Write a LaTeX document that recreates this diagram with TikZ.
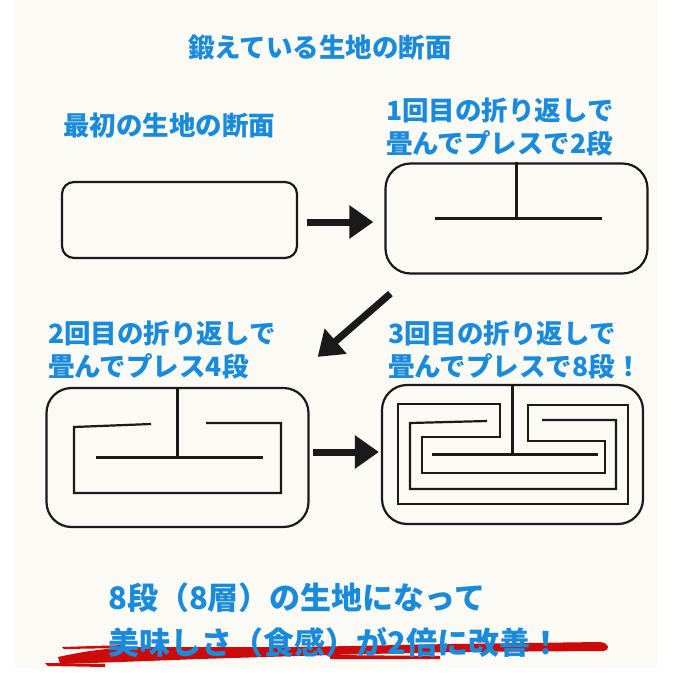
\documentclass[tikz,border=0pt]{standalone}
\usepackage{fontspec}
\newfontfamily\jpfont{Noto Sans CJK JP}
\usepackage{tikz}
\usetikzlibrary{arrows.meta,positioning,calc}
\usepackage{xcolor}
\definecolor{paper}{HTML}{FBFAF5}
\definecolor{caption}{HTML}{1A8ADA}
\definecolor{ink}{HTML}{1A1A1A}
\definecolor{brush}{HTML}{CC0A0A}

\begin{document}
\begin{tikzpicture}[
  x=1pt, y=-1pt,
  every node/.style={font=\jpfont\bfseries, text=caption, inner sep=0pt},
  head/.style={font=\jpfont\bfseries\fontsize{26.5}{33}\selectfont, align=left},
  big/.style={font=\jpfont\bfseries\fontsize{31}{45}\selectfont, align=left},
  dough/.style={draw=ink, line width=2.2, fill=paper},
  layer/.style={draw=ink, line width=2.2},
  push/.style={-{Triangle[length=24, width=32]}, line width=7, draw=ink}
]
  % canvas
  \useasboundingbox (0,0) rectangle (675,675);
  \fill[white] (0,0) rectangle (675,675);
  \fill[paper] (15,0) rectangle (658,668);

  % titles
  \node (title) at (320,47) {\fontsize{26.5}{33}\selectfont 鍛えている生地の断面};
  \node[head, anchor=west] (cap0) at (63,125) {最初の生地の断面};
  \node[head, anchor=west] (cap1) at (386,127) {1回目の折り返しで\\畳んでプレスで2段};
  \node[head, anchor=west] (cap2) at (48,350) {2回目の折り返しで\\畳んでプレス4段};
  \node[head, anchor=west] (cap3) at (388,350) {3回目の折り返しで\\畳んでプレスで8段！};

  % dough cross sections
  \node[dough, rounded corners=12, minimum width=235, minimum height=76] (fold0) at (179.5,220) {};
  \node[dough, rounded corners=25, minimum width=262, minimum height=110] (fold1) at (516.5,218.5) {};
  \node[dough, rounded corners=25, minimum width=262, minimum height=139] (fold2) at (177.5,457.5) {};
  \node[dough, rounded corners=25, minimum width=261, minimum height=139] (fold3) at (512.5,454.5) {};

  % 2 layers
  \draw[layer] (fold1.north) -- (fold1.center);
  \draw[layer] ($(fold1.center)+(-82,0)$) -- ++(167,0);

  % 4 layers
  \draw[layer] (fold2.north) -- (fold2.center);
  \draw[layer] ($(fold2.center)+(-81.5,0)$) -- ++(167,0);
  \draw[layer] ($(fold2.center)+(-26.5,-33.5)$) -- ++(-77,3) |- ++(207,66) |- ++(-75,-70);

  % 8 layers
  \draw[layer] (fold3.north) -- (fold3.center);
  \draw[layer] ($(fold3.center)+(-80.5,0)$) -- ++(166,0);
  \draw[layer] ($(fold3.center)+(-25.5,-33.5)$) -- ++(-77,2) |- ++(206,66) |- ++(-74,-69);
  \draw[layer] ($(fold3.center)+(-12.5,-50.5)$) |- ++(-78,33) |- ++(183,36) |- ++(-77,-32)
    |- ++(100,-36) |- ++(-230,99) -- ++(0,-100) -- cycle;

  % arrows
  \draw[push] ($(fold0.east)+(9,2)$) -- ($(fold1.west)+(-11,3.5)$);
  \draw[push] ($(fold1.south west)+(6,19)$) -- ($(fold2.north east)+(8,-30)$);
  \draw[push] ($(fold2.east)+(3,-5.5)$) -- ($(fold3.west)+(-2,-2.5)$);

  % brush stroke
  \fill[brush] (58,657) .. controls (90,650) and (110,648) .. (140,647)
    -- (300,647) -- (450,644) -- (600,642) .. controls (610,643) and (610,650) .. (604,651)
    -- (450,652) -- (330,655) -- (200,659) -- (120,662) -- (60,664) -- cycle;
  \fill[brush] (62,647) -- (125,645) -- (125,648) -- (64,649) -- cycle;
  \fill[brush] (330,655) -- (440,656) -- (440,659) -- (330,659) -- cycle;
  \fill[brush] (45,663) -- (105,664) -- (105,667) -- (48,666) -- cycle;

  % conclusion
  \node[big, anchor=west] (result) at (108,620) {8段（8層）の生地になって\\美味しさ（食感）が2倍に改善！};
\end{tikzpicture}
\end{document}
